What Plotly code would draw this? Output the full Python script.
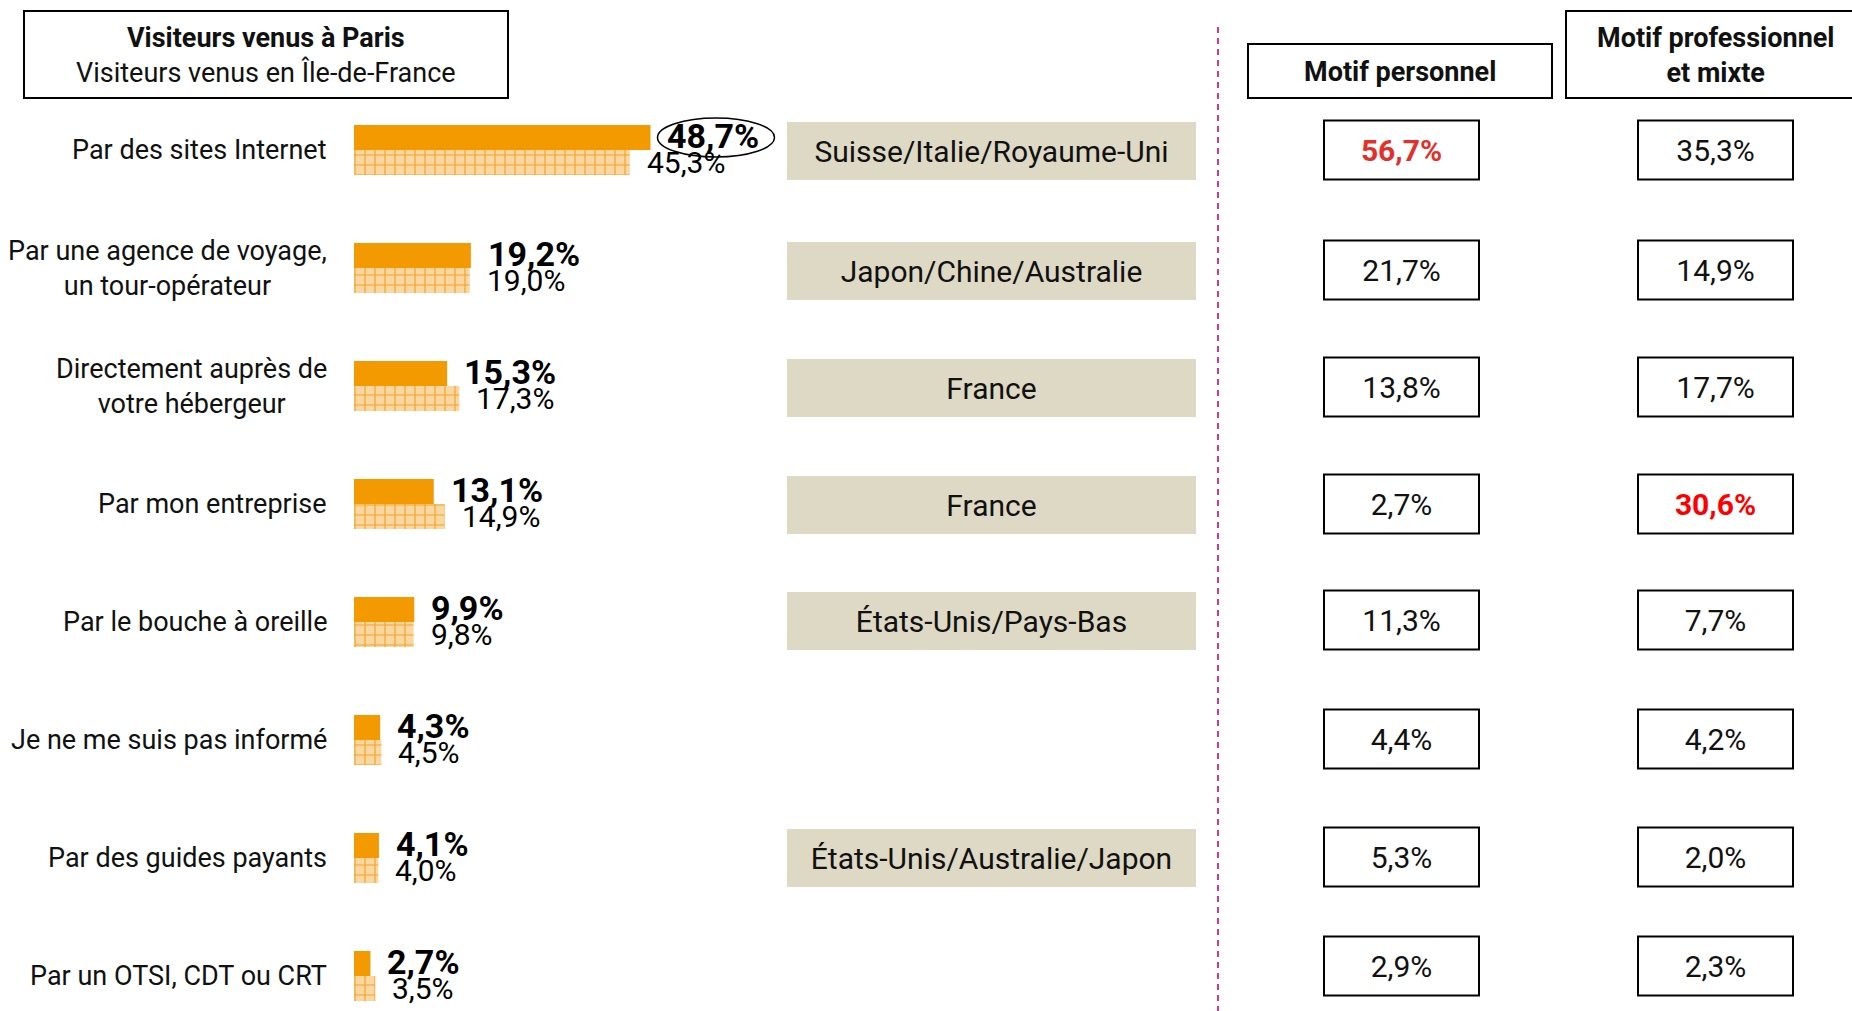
import plotly.graph_objects as go

# ---------------- data ----------------
categories = [
    "Par des sites Internet",
    "Par une agence de voyage,<br>un tour-opérateur",
    "Directement auprès de<br>votre hébergeur",
    "Par mon entreprise",
    "Par le bouche à oreille",
    "Je ne me suis pas informé",
    "Par des guides payants",
    "Par un OTSI, CDT ou CRT",
]
paris = [48.7, 19.2, 15.3, 13.1, 9.9, 4.3, 4.1, 2.7]
idf = [45.3, 19.0, 17.3, 14.9, 9.8, 4.5, 4.0, 3.5]
countries = [
    "Suisse/Italie/Royaume-Uni",
    "Japon/Chine/Australie",
    "France",
    "France",
    "États-Unis/Pays-Bas",
    "",
    "États-Unis/Australie/Japon",
    "",
]
motif_perso = [56.7, 21.7, 13.8, 2.7, 11.3, 4.4, 5.3, 2.9]
motif_pro = [35.3, 14.9, 17.7, 30.6, 7.7, 4.2, 2.0, 2.3]
highlight_perso = [True, False, False, False, False, False, False, False]
highlight_pro = [False, False, False, True, False, False, False, False]

legend_title_bold = "Visiteurs venus à Paris"
legend_title_reg = "Visiteurs venus en Île-de-France"
col_headers = ["Motif personnel", "Motif professionnel<br>et mixte"]


def fr(v):
    return f"{v:.1f}".replace(".", ",") + "%"


# ---------------- layout constants ----------------
W, H = 1852, 1011
FONT = "Roboto, 'Noto Sans', sans-serif"
ORANGE = "#F39A00"
ORANGE_LIGHT = "#FAD7A0"
ORANGE_GRID = "#F4A428"
BEIGE = "#DDD9C4"
MAGENTA = "#D6368E"

X0_PX = 354          # pixel of 0 %
PX_PER_PCT = 6.088   # pixels per percent
ROW0_PX = 150        # centre of first row
ROW_STEP = 118       # row spacing (left panel)
BAR_W = 0.212        # bar thickness in category units

TABLE_ROW_PX = [150, 270, 387, 504, 620, 739, 857, 966]
TEXT_DY = 3          # small downward nudge of text inside boxes
COUNTRY_CX, COUNTRY_W, COUNTRY_H = 991.5, 409, 58
COL_CX = [1401.5, 1715.5]
CELL_W, CELL_H = 155, 59

fig = go.Figure()

# bars
fig.add_trace(go.Bar(
    y=categories, x=paris, orientation="h",
    width=BAR_W, offset=-BAR_W,
    marker=dict(color=ORANGE, line=dict(width=0)),
    hoverinfo="skip", showlegend=False,
))
fig.add_trace(go.Bar(
    y=categories, x=idf, orientation="h",
    width=BAR_W, offset=0,
    marker=dict(
        color=ORANGE_GRID, line=dict(width=0),
        pattern=dict(shape="+", size=10, solidity=0.22, fillmode="replace",
                     fgcolor=ORANGE_GRID, bgcolor=ORANGE_LIGHT, fgopacity=1),
    ),
    hoverinfo="skip", showlegend=False,
))

annotations = []
# category labels
for c in categories:
    annotations.append(dict(
        x=329 / W, xref="paper", y=c, yref="y", text=c, showarrow=False,
        xanchor="right", yanchor="middle", align="center",
        font=dict(family=FONT, size=27, color="#111"),
    ))
# value labels
for c, v in zip(categories, paris):
    annotations.append(dict(
        x=v, y=c, xref="x", yref="y", text=f"<b>{fr(v)}</b>", showarrow=False,
        xanchor="left", yanchor="middle", xshift=15, yshift=14,
        font=dict(family=FONT, size=34, color="#000"),
    ))
for c, v in zip(categories, idf):
    annotations.append(dict(
        x=v, y=c, xref="x", yref="y", text=fr(v), showarrow=False,
        xanchor="left", yanchor="middle", xshift=15, yshift=-12,
        font=dict(family=FONT, size=30, color="#000"),
    ))

# headers
annotations.append(dict(
    x=266, y=55, xref="x2", yref="y2", showarrow=False,
    text=f"<b>{legend_title_bold}</b><br>{legend_title_reg}",
    xanchor="center", yanchor="middle", align="center",
    font=dict(family=FONT, size=27, color="#111"),
))
annotations.append(dict(
    x=1400, y=72, xref="x2", yref="y2", showarrow=False,
    text=f"<b>{col_headers[0]}</b>", xanchor="center", yanchor="middle",
    font=dict(family=FONT, size=27, color="#111"),
))
annotations.append(dict(
    x=1716, y=55, xref="x2", yref="y2", showarrow=False,
    text=f"<b>{col_headers[1]}</b>", xanchor="center", yanchor="middle", align="center",
    font=dict(family=FONT, size=27, color="#111"),
))

shapes = []
# ellipse around top value
shapes.append(dict(
    type="circle", xref="x", yref="y", xsizemode="pixel", ysizemode="pixel",
    xanchor=paris[0], yanchor=0, x0=7, x1=124, y0=-7, y1=32,
    line=dict(color="#000", width=1.5), fillcolor="rgba(0,0,0,0)",
))
# header boxes
for (x0, y0, x1, y1) in [(24, 11, 508, 98), (1248, 44, 1552, 98), (1566, 11, 1880, 98)]:
    shapes.append(dict(type="rect", xref="x2", yref="y2", x0=x0, x1=x1, y0=y0, y1=y1,
                       line=dict(color="#000", width=2), fillcolor="rgba(0,0,0,0)", layer="below"))
# dashed separator
shapes.append(dict(type="line", xref="x2", yref="y2", x0=1218, x1=1218, y0=27, y1=H,
                   line=dict(color=MAGENTA, width=2, dash="6px,5px")))
# country boxes
cy_list, ctext = [], []
for ry, name in zip(TABLE_ROW_PX, countries):
    if name:
        shapes.append(dict(type="rect", xref="x2", yref="y2",
                           x0=COUNTRY_CX - COUNTRY_W / 2, x1=COUNTRY_CX + COUNTRY_W / 2,
                           y0=ry - COUNTRY_H / 2 + 1, y1=ry + COUNTRY_H / 2 + 1,
                           line=dict(width=0), fillcolor=BEIGE, layer="below"))
        cy_list.append(ry + TEXT_DY + 1)
        ctext.append(name)
# table cells
for cx in COL_CX:
    for ry in TABLE_ROW_PX:
        shapes.append(dict(type="rect", xref="x2", yref="y2",
                           x0=cx - CELL_W / 2, x1=cx + CELL_W / 2,
                           y0=ry - CELL_H / 2, y1=ry + CELL_H / 2,
                           line=dict(color="#000", width=2), fillcolor="white", layer="below"))

fig.add_trace(go.Scatter(
    x=[COUNTRY_CX] * len(cy_list), y=cy_list, xaxis="x2", yaxis="y2",
    mode="text", text=ctext, textposition="middle center",
    textfont=dict(family=FONT, size=30, color="#111"),
    hoverinfo="skip", showlegend=False,
))
fig.add_trace(go.Scatter(
    x=[COL_CX[0]] * len(motif_perso), y=[r + TEXT_DY for r in TABLE_ROW_PX], xaxis="x2", yaxis="y2",
    mode="text", text=[f"<b>{fr(v)}</b>" if h else fr(v) for v, h in zip(motif_perso, highlight_perso)],
    textposition="middle center",
    textfont=dict(family=FONT, size=30, color=["#E3302A" if h else "#111" for h in highlight_perso]),
    hoverinfo="skip", showlegend=False,
))
fig.add_trace(go.Scatter(
    x=[COL_CX[1]] * len(motif_pro), y=[r + TEXT_DY for r in TABLE_ROW_PX], xaxis="x2", yaxis="y2",
    mode="text", text=[f"<b>{fr(v)}</b>" if h else fr(v) for v, h in zip(motif_pro, highlight_pro)],
    textposition="middle center",
    textfont=dict(family=FONT, size=30, color=["#FF0000" if h else "#111" for h in highlight_pro]),
    hoverinfo="skip", showlegend=False,
))

fig.update_layout(
    width=W, height=H, margin=dict(l=0, r=0, t=0, b=0),
    paper_bgcolor="white", plot_bgcolor="white",
    barmode="overlay", showlegend=False,
    font=dict(family=FONT),
    xaxis=dict(range=[-X0_PX / PX_PER_PCT, (W - X0_PX) / PX_PER_PCT], domain=[0, 1],
               visible=False, fixedrange=True),
    yaxis=dict(type="category", categoryorder="array", categoryarray=categories,
               range=[(H - ROW0_PX) / ROW_STEP, -ROW0_PX / ROW_STEP], domain=[0, 1],
               visible=False, fixedrange=True),
    xaxis2=dict(range=[0, W], overlaying="x", visible=False, fixedrange=True),
    yaxis2=dict(range=[H, 0], overlaying="y", visible=False, fixedrange=True),
    annotations=annotations, shapes=shapes,
)

fig.write_html("out.html", config={"displayModeBar": False, "staticPlot": True},
               post_script="document.body.style.margin='0';document.body.style.overflow='hidden';")
